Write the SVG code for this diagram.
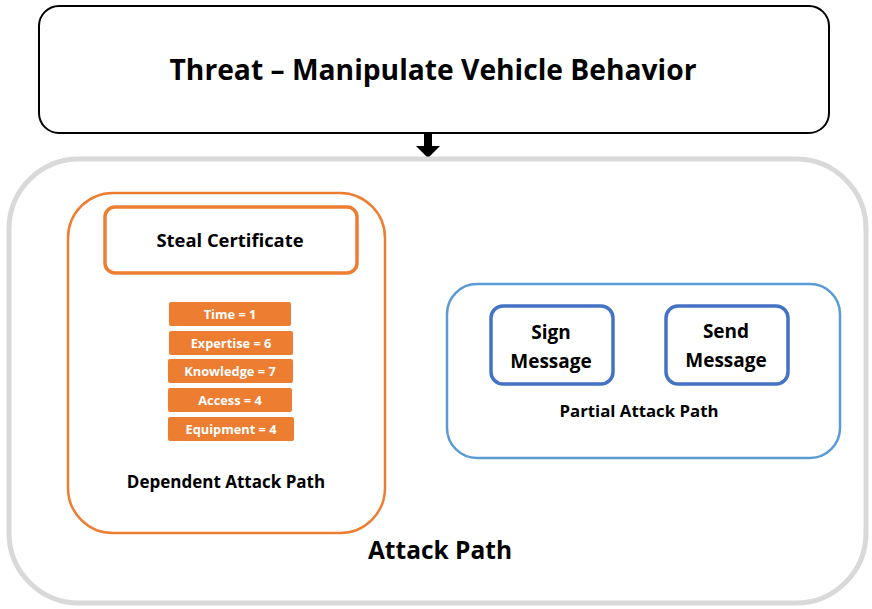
<svg xmlns="http://www.w3.org/2000/svg" width="872" height="609" viewBox="0 0 872 609">
<style>
text{font-family:"Open Sans","Liberation Sans",sans-serif;font-weight:bold;text-anchor:middle;fill:#000}
.bar{fill:#ed7d31}
.bt{fill:#fff;font-size:12.8px}
.blue{fill:#fff;stroke:#4472c4;stroke-width:3.5}
</style>
<rect width="872" height="609" fill="#fff"/>
<g id="threat">
<rect x="39" y="6" width="790" height="127" rx="20" fill="#fff" stroke="#000" stroke-width="2"/>
<text x="433" y="80" font-size="28" textLength="527" lengthAdjust="spacingAndGlyphs">Threat – Manipulate Vehicle Behavior</text>
</g>
<g id="connectors">
<polygon points="424,133 432,133 432,146 440,146 428,158 416,146 424,146" fill="#000"/>
</g>
<g id="attack-path">
<rect x="9" y="159" width="857" height="444" rx="70" fill="#fff" stroke="#d9d9d9" stroke-width="5"/>
<text x="440" y="559" font-size="24.5">Attack Path</text>
</g>
<g id="dependent">
<rect x="68" y="193" width="317" height="340" rx="45" fill="#fff" stroke="#ed7d31" stroke-width="2.5"/>
<text x="226" y="488" font-size="17">Dependent Attack Path</text>
</g>
<g id="steal">
<rect x="105" y="207" width="252" height="66" rx="10" fill="#fff" stroke="#ed7d31" stroke-width="3.5"/>
<text x="230" y="247" font-size="18.4">Steal Certificate</text>
</g>
<g id="time"><rect class="bar" x="169" y="302" width="122" height="24" rx="2"/><text class="bt" x="230" y="319">Time = 1</text></g>
<g id="expertise"><rect class="bar" x="169" y="331" width="124" height="24" rx="2"/><text class="bt" x="231" y="348">Expertise = 6</text></g>
<g id="knowledge"><rect class="bar" x="168" y="359" width="125" height="24" rx="2"/><text class="bt" x="230" y="376">Knowledge = 7</text></g>
<g id="access"><rect class="bar" x="168" y="388" width="124" height="24" rx="2"/><text class="bt" x="230" y="405">Access = 4</text></g>
<g id="equipment"><rect class="bar" x="168" y="417" width="126" height="24" rx="2"/><text class="bt" x="231" y="434">Equipment = 4</text></g>
<g id="partial">
<rect x="447" y="284" width="393" height="174" rx="30" fill="#fff" stroke="#5b9bd5" stroke-width="2.5"/>
<text x="639" y="417" font-size="16.8">Partial Attack Path</text>
</g>
<g id="sign">
<rect class="blue" x="491" y="306" width="122" height="78" rx="12"/>
<text x="551" y="339" font-size="19">Sign</text>
<text x="551" y="368" font-size="19">Message</text>
</g>
<g id="send">
<rect class="blue" x="666" y="306" width="122" height="78" rx="12"/>
<text x="726" y="338" font-size="19">Send</text>
<text x="726" y="367" font-size="19">Message</text>
</g>
</svg>
